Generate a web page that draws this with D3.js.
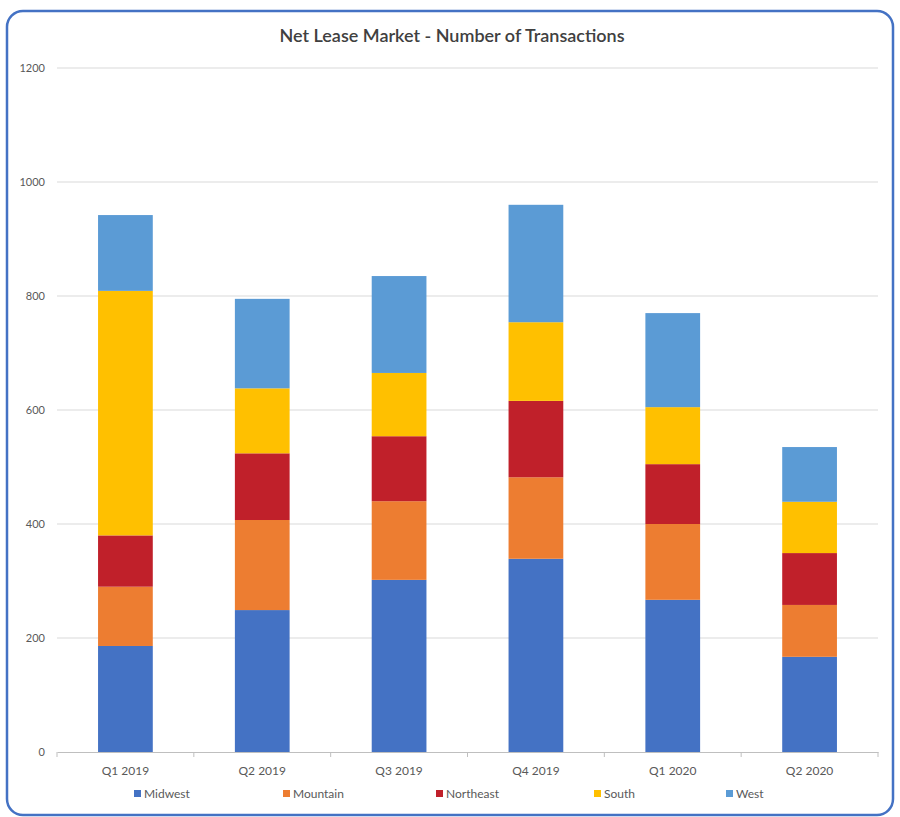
<!DOCTYPE html>
<html><head><meta charset="utf-8">
<script src="https://cdn.jsdelivr.net/npm/d3@7/dist/d3.min.js"></script>
<style>body{margin:0;background:#fff;}svg{display:block;}</style>
</head><body>
<svg id="chart" width="900" height="817"></svg>
<script>
const categories = ["Q1 2019","Q2 2019","Q3 2019","Q4 2019","Q1 2020","Q2 2020"];
const seriesNames = ["Midwest","Mountain","Northeast","South","West"];
const midwest   = [186, 249, 302, 339, 267, 167];
const mountain  = [104, 158, 138, 143, 133, 91];
const northeast = [90, 117, 114, 134, 105, 91];
const south     = [429, 114, 111, 138, 100, 90];
const west      = [133, 157, 170, 206, 165, 96];
const yTicks = [0, 200, 400, 600, 800, 1000, 1200];
const colors = ["#4472C4","#ED7D31","#C0202A","#FFC000","#5B9BD5"];

(function(){
const seriesData = [midwest, mountain, northeast, south, west];
const rows = categories.map((c,i)=>{const o={cat:c}; seriesNames.forEach((s,j)=>o[s]=seriesData[j][i]); return o;});
const stacked = d3.stack().keys(seriesNames)(rows);

const svg = d3.select("#chart");
const font = "Lato, 'Open Sans', sans-serif";

svg.append("rect").attr("x",7).attr("y",11).attr("width",886).attr("height",804)
  .attr("rx",16).attr("fill","#fff").attr("stroke","#4472C4").attr("stroke-width",2.5);

svg.append("text").attr("x",452).attr("y",42).attr("text-anchor","middle")
  .attr("font-family",font).attr("font-size",18).attr("font-weight",600).attr("fill","#404040")
  .text("Net Lease Market - Number of Transactions");

const pLeft=57, pRight=878, pTop=68, pBottom=752;
const x = d3.scaleBand().domain(categories).range([pLeft,pRight]).paddingInner(0.6).paddingOuter(0.3);
const y = d3.scaleLinear().domain([0,1200]).range([pBottom,pTop]);

svg.append("g").selectAll("line").data(yTicks.filter(t=>t>0)).join("line")
  .attr("x1",pLeft).attr("x2",pRight).attr("y1",d=>y(d)).attr("y2",d=>y(d))
  .attr("stroke","#d9d9d9").attr("stroke-width",1);

svg.append("g").selectAll("text").data(yTicks).join("text")
  .attr("x",45).attr("y",d=>y(d)+4).attr("text-anchor","end")
  .attr("font-family",font).attr("font-size",11).attr("fill","#595959").text(d=>d);

svg.append("g").selectAll("g").data(stacked).join("g")
  .attr("fill",(d,i)=>colors[i])
  .selectAll("rect").data(d=>d).join("rect")
  .attr("x",d=>x(d.data.cat)).attr("width",x.bandwidth())
  .attr("y",d=>y(d[1])).attr("height",d=>y(d[0])-y(d[1]));

const xAxis = d3.axisBottom(x).tickSize(0).tickPadding(14);
const gx = svg.append("g").attr("transform",`translate(0,${pBottom})`).call(xAxis);
gx.select(".domain").attr("stroke","#bfbfbf");
gx.selectAll("text").attr("font-family",font).attr("font-size",12).attr("fill","#595959");
const bounds = d3.range(categories.length+1).map(i=>pLeft+i*(pRight-pLeft)/categories.length);
svg.append("g").selectAll("line").data(bounds).join("line")
  .attr("x1",d=>d).attr("x2",d=>d).attr("y1",pBottom).attr("y2",pBottom+5).attr("stroke","#bfbfbf");

const legX = [134, 283, 436, 594, 726];
const leg = svg.append("g").selectAll("g").data(seriesNames).join("g")
  .attr("transform",(d,i)=>`translate(${legX[i]},794)`);
leg.append("rect").attr("x",0).attr("y",-4).attr("width",7).attr("height",7).attr("fill",(d,i)=>colors[i]);
leg.append("text").attr("x",10).attr("y",4).attr("font-family",font).attr("font-size",12)
  .attr("fill","#595959").text(d=>d);
})();
</script>
</body></html>
